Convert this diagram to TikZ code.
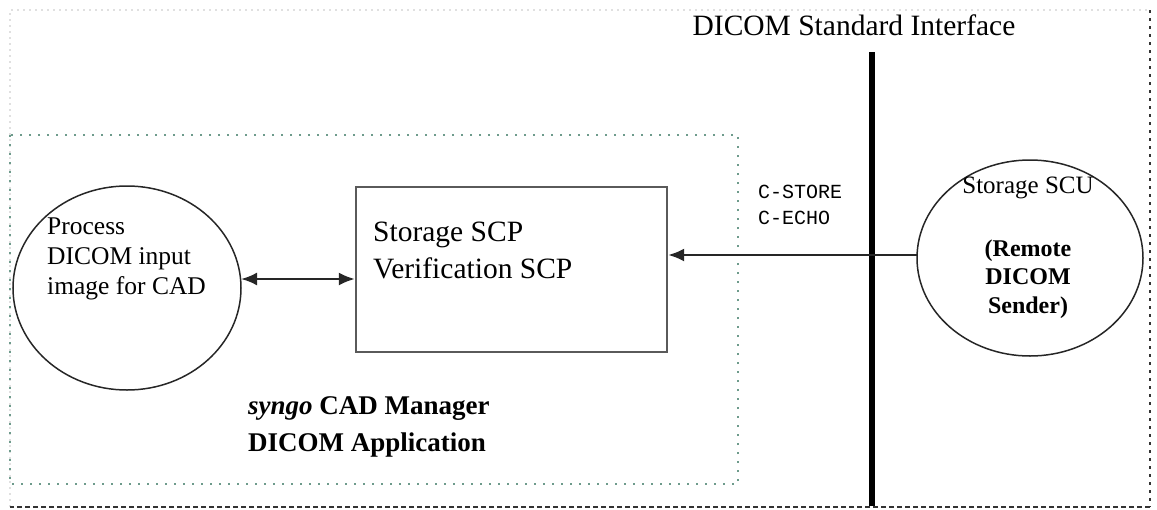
\documentclass[tikz,border=0pt]{standalone}
\usepackage{fontspec}
\setmainfont{Liberation Serif}
\setmonofont{Liberation Mono}
\usetikzlibrary{shapes.geometric,arrows.meta}
\definecolor{dotgreen}{RGB}{110,155,140}
\definecolor{linegray}{RGB}{90,90,90}
\tikzset{
  proc/.style={ellipse,draw=black!85,line width=1.5pt,inner sep=0pt},
  scpbox/.style={rectangle,draw=linegray,line width=2.2pt,inner sep=0pt},
  conn/.style={draw=black!85,line width=2.4pt},
  tip/.style={-{Latex[length=16pt,width=13pt]}},
  txt/.style={inner sep=0pt,align=left,anchor=north west}
}
\begin{document}
\begin{tikzpicture}[x=1pt,y=-1pt]
\useasboundingbox (0,0) rectangle (1157,509);
% outer frame
\coordinate (o1) at (10,10);
\coordinate (o2) at (1150,10);
\coordinate (o3) at (1150,507);
\coordinate (o4) at (10,507);
\draw[black!12,line width=1.5pt,dash pattern=on 2pt off 4pt] (o4) -- (o1) -- (o2);
\draw[black!80,line width=2.2pt,dash pattern=on 3pt off 5pt] (o2) -- (o3);
\draw[black!80,line width=1.6pt,dash pattern=on 5pt off 3pt] (o3) -- (o4);
% green application box
\coordinate (g1) at (10,135);
\coordinate (g2) at (738,484);
\draw[dotgreen,line width=2pt,dash pattern=on 2pt off 7pt] (g1) rectangle (g2);
% interface line
\coordinate (vt) at (872,52);
\coordinate (vb) at (872,506);
\draw[black,line width=6pt] (vt) -- (vb);
\node[font=\fontsize{29.5}{32}\selectfont,inner sep=0pt] (std) at (854,25) {DICOM Standard Interface};
% shapes
\node[proc,minimum width=228pt,minimum height=204pt] (lc) at (127,288) {};
\node[scpbox,minimum width=311pt,minimum height=165pt] (box) at (511.5,269.5) {};
\node[proc,minimum width=226pt,minimum height=196pt] (rc) at (1030,258) {};
% texts
\node[txt,font=\fontsize{25.5}{30}\selectfont] (ptxt) at (47,218) {Process\\DICOM input\\image for CAD};
\node[txt,font=\fontsize{29.5}{37}\selectfont] (stxt) at (373,222) {Storage SCP\\Verification SCP};
\node[font=\fontsize{25}{30}\selectfont,inner sep=0pt] (scu) at (1028,188) {Storage SCU};
\node[font=\fontsize{24}{28.5}\selectfont\bfseries,align=center,inner sep=0pt] (rem) at (1028,279) {(Remote\\DICOM\\Sender)};
\node[txt,font=\fontsize{20}{26}\selectfont\ttfamily] (cmd) at (758,185) {C-STORE\\C-ECHO};
\node[txt,font=\fontsize{27}{37}\selectfont\bfseries] (app) at (248,396) {\textit{syngo} CAD Manager\\DICOM Application};
% connectors
\coordinate (a1) at (241,279);
\draw[conn,{Latex[length=16pt,width=13pt]}-{Latex[length=16pt,width=13pt]}] (a1) -- (box.west |- a1);
\coordinate (a2) at (917,255);
\draw[conn,tip] (a2) -- (box.east |- a2);
\end{tikzpicture}
\end{document}
